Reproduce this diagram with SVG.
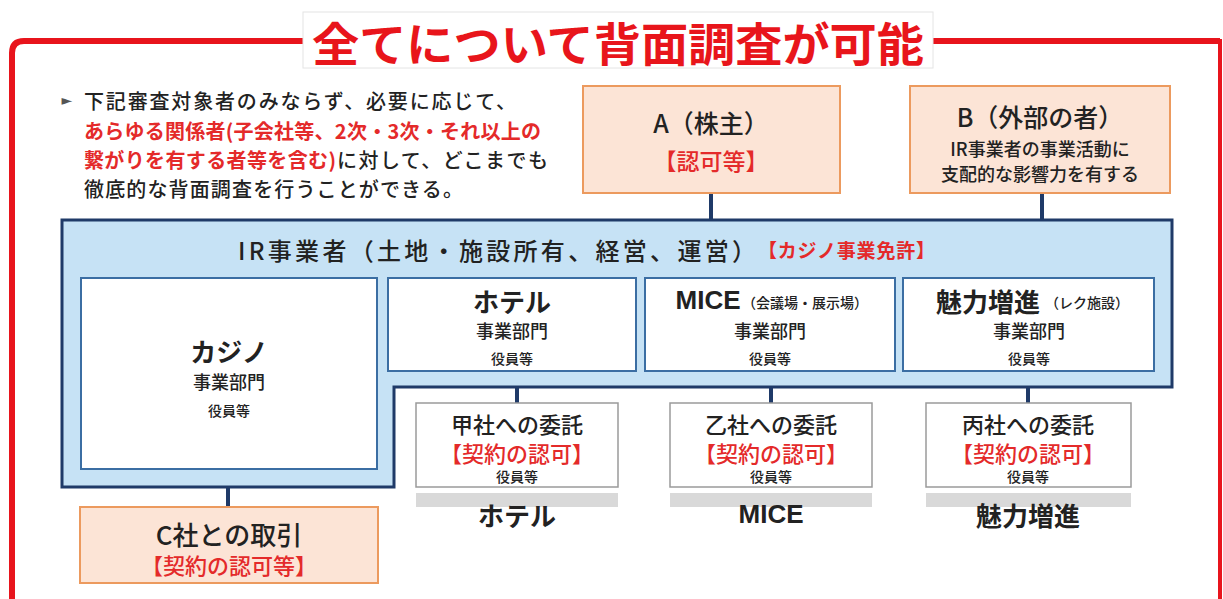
<svg xmlns="http://www.w3.org/2000/svg" width="1223" height="599" viewBox="0 0 1223 599">
<style>
text{font-family:"Noto Sans CJK JP","Noto Sans",sans-serif;fill:#222;dominant-baseline:central;text-anchor:middle;font-weight:500}
.red{fill:#e42a2a}
.b{font-weight:bold}
.peach{fill:#fce4d6;stroke:#ec9a5e;stroke-width:2}
.inner{fill:#fff;stroke:#3b6ea3;stroke-width:2}
.ent{fill:#fff;stroke:#9a9a9a;stroke-width:1.5}
.bar{fill:#d9d9d9}
.conn line{stroke:#1f3a68;stroke-width:4}
.l{text-anchor:start}
</style>
<rect width="1223" height="599" fill="#fff"/>
<g id="frame">
<path d="M12,599 V53 Q12,41 24,41 H1220" fill="none" stroke="#e8141c" stroke-width="6"/>
<line x1="1220" y1="39" x2="1220" y2="599" stroke="#e8141c" stroke-width="4"/>
</g>
<g id="title">
<rect x="303" y="12" width="630" height="56" fill="#fff" stroke="#e4e4e4" stroke-width="1"/>
<text x="618" y="41" class="red b" style="fill:#e8151b" font-size="46" textLength="612" lengthAdjust="spacingAndGlyphs">全てについて背面調査が可能</text>
</g>
<g id="note">
<text x="67" y="100" style="font-family:'DejaVu Sans',sans-serif;fill:#555" font-size="14">►</text>
<text x="84" y="100" class="l" font-size="20" textLength="432" lengthAdjust="spacing">下記審査対象者のみならず、必要に応じて、</text>
<text x="84" y="130" class="l red b" font-size="20" textLength="457" lengthAdjust="spacing">あらゆる関係者(子会社等、2次・3次・それ以上の</text>
<text x="84" y="159" class="l red b" font-size="20" textLength="252" lengthAdjust="spacing">繋がりを有する者等を含む)</text>
<text x="337" y="159" class="l" font-size="20" textLength="211" lengthAdjust="spacing">に対して、どこまでも</text>
<text x="84" y="188" class="l" font-size="20" textLength="379" lengthAdjust="spacing">徹底的な背面調査を行うことができる。</text>
</g>
<g class="conn" id="connectors">
<line x1="711" y1="193" x2="711" y2="221"/>
<line x1="1042" y1="193" x2="1042" y2="221"/>
<line x1="517" y1="386" x2="517" y2="403"/>
<line x1="771" y1="386" x2="771" y2="403"/>
<line x1="1028" y1="386" x2="1028" y2="403"/>
<line x1="228" y1="486" x2="228" y2="507"/>
</g>
<g id="nodeA">
<rect x="583" y="86" width="257" height="107" class="peach"/>
<text x="711" y="122" font-size="25">A（株主）</text>
<text x="711" y="160" class="red" font-size="23">【認可等】</text>
</g>
<g id="nodeB">
<rect x="910" y="86" width="260" height="107" class="peach"/>
<text x="1040" y="116" font-size="25">B（外部の者）</text>
<text x="1040" y="148" font-size="18">IR事業者の事業活動に</text>
<text x="1040" y="173" font-size="18">支配的な影響力を有する</text>
</g>
<g id="irOperator">
<path d="M62,220 H1172 V387 H394 V487 H62 Z" fill="#c6e2f5" stroke="#1f3a68" stroke-width="3"/>
<text x="238" y="249" class="l" font-size="24" textLength="518" lengthAdjust="spacing">IR事業者（土地・施設所有、経営、運営）</text>
<text x="758" y="249" class="l red b" font-size="19" textLength="177" lengthAdjust="spacing">【カジノ事業免許】</text>
</g>
<g id="casino">
<rect x="81" y="278" width="296" height="191" class="inner"/>
<text x="229" y="350" class="b" font-size="26">カジノ</text>
<text x="229" y="381" font-size="18">事業部門</text>
<text x="229" y="410" font-size="14">役員等</text>
</g>
<g id="hotel">
<rect x="388" y="278" width="248" height="93" class="inner"/>
<text x="512" y="300" class="b" font-size="26">ホテル</text>
<text x="512" y="330" font-size="18">事業部門</text>
<text x="512" y="358" font-size="14">役員等</text>
</g>
<g id="mice">
<rect x="645" y="278" width="250" height="93" class="inner"/>
<text x="708" y="300" class="b" font-size="26" style="font-family:'Liberation Sans',sans-serif">MICE</text>
<text x="805" y="302" font-size="14">（会議場・展示場）</text>
<text x="770" y="330" font-size="18">事業部門</text>
<text x="770" y="358" font-size="14">役員等</text>
</g>
<g id="attraction">
<rect x="903" y="278" width="251" height="93" class="inner"/>
<text x="988" y="300" class="b" font-size="26">魅力増進</text>
<text x="1087" y="302" font-size="14">（レク施設）</text>
<text x="1029" y="330" font-size="18">事業部門</text>
<text x="1029" y="358" font-size="14">役員等</text>
</g>
<g id="entrustKou">
<rect x="416" y="403" width="202" height="84" class="ent"/>
<text x="517" y="423" font-size="22">甲社への委託</text>
<text x="517" y="452" class="red" font-size="22">【契約の認可】</text>
<text x="517" y="476" font-size="14">役員等</text>
<rect x="416" y="493" width="202" height="14" class="bar"/>
<text x="517" y="514" class="b" font-size="26">ホテル</text>
</g>
<g id="entrustOtsu">
<rect x="670" y="403" width="202" height="84" class="ent"/>
<text x="771" y="423" font-size="22">乙社への委託</text>
<text x="771" y="452" class="red" font-size="22">【契約の認可】</text>
<text x="771" y="476" font-size="14">役員等</text>
<rect x="670" y="493" width="202" height="14" class="bar"/>
<text x="771" y="514" class="b" font-size="26" style="font-family:'Liberation Sans',sans-serif">MICE</text>
</g>
<g id="entrustHei">
<rect x="926" y="403" width="205" height="84" class="ent"/>
<text x="1028" y="423" font-size="22">丙社への委託</text>
<text x="1028" y="452" class="red" font-size="22">【契約の認可】</text>
<text x="1028" y="476" font-size="14">役員等</text>
<rect x="926" y="493" width="205" height="14" class="bar"/>
<text x="1028" y="514" class="b" font-size="26">魅力増進</text>
</g>
<g id="nodeC">
<rect x="80" y="507" width="298" height="76" class="peach"/>
<text x="229" y="533" font-size="26">C社との取引</text>
<text x="229" y="564" class="red" font-size="22">【契約の認可等】</text>
</g>
</svg>
